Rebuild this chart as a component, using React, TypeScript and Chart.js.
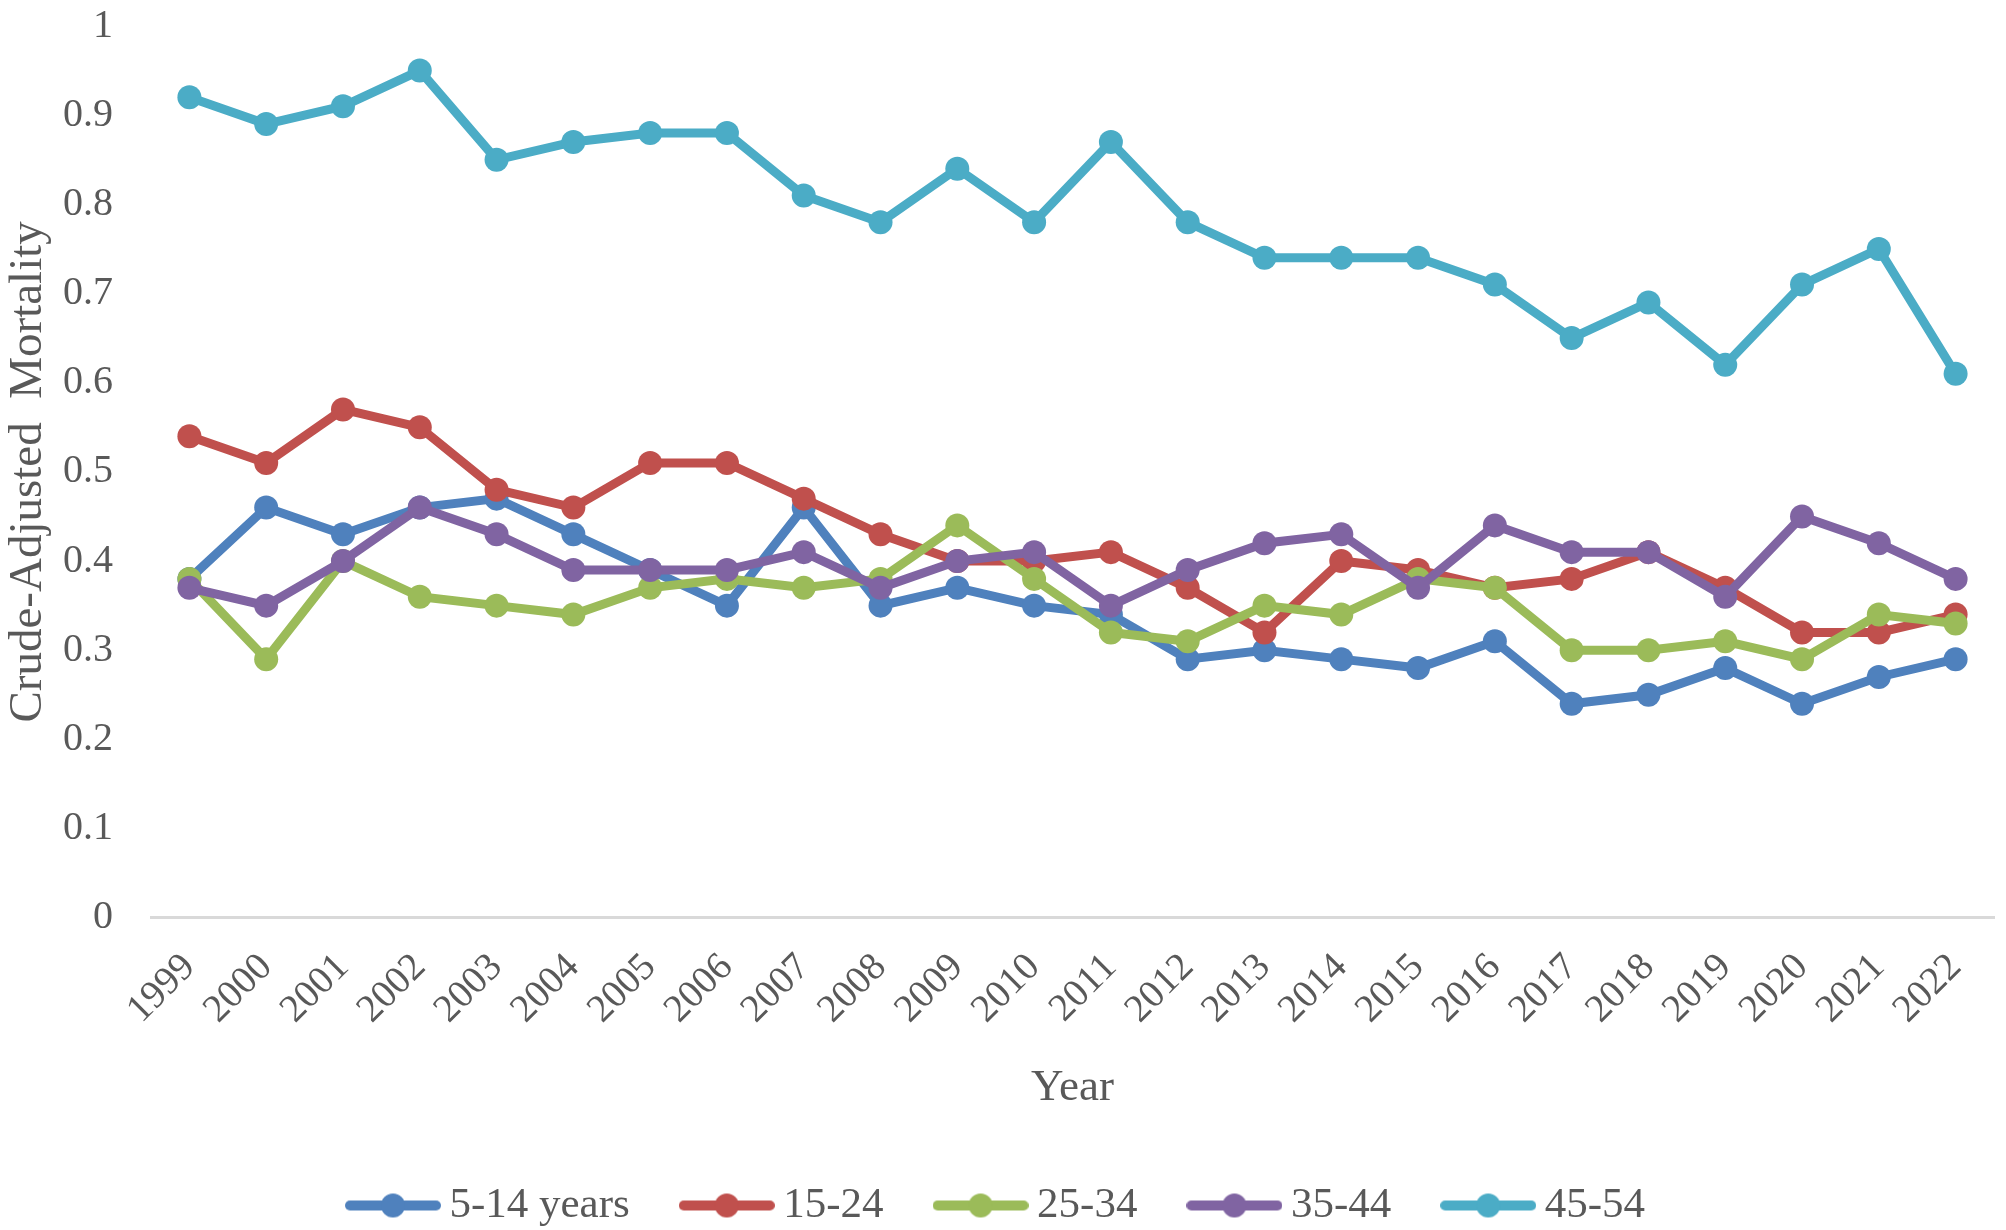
import { useEffect, useRef } from 'react';
import { Chart, registerables } from 'chart.js';

Chart.register(...registerables);

const years = [
  '1999', '2000', '2001', '2002', '2003', '2004', '2005', '2006', '2007', '2008', '2009', '2010',
  '2011', '2012', '2013', '2014', '2015', '2016', '2017', '2018', '2019', '2020', '2021', '2022',
];

const seriesNames = ['5-14 years', '15-24', '25-34', '35-44', '45-54'];
const seriesColors = ['#4F81BD', '#C0504D', '#9BBB59', '#8064A2', '#4BACC6'];

const age5to14 = [0.38, 0.46, 0.43, 0.46, 0.47, 0.43, 0.39, 0.35, 0.46, 0.35, 0.37, 0.35, 0.34, 0.29, 0.30, 0.29, 0.28, 0.31, 0.24, 0.25, 0.28, 0.24, 0.27, 0.29];
const age15to24 = [0.54, 0.51, 0.57, 0.55, 0.48, 0.46, 0.51, 0.51, 0.47, 0.43, 0.40, 0.40, 0.41, 0.37, 0.32, 0.40, 0.39, 0.37, 0.38, 0.41, 0.37, 0.32, 0.32, 0.34];
const age25to34 = [0.38, 0.29, 0.40, 0.36, 0.35, 0.34, 0.37, 0.38, 0.37, 0.38, 0.44, 0.38, 0.32, 0.31, 0.35, 0.34, 0.38, 0.37, 0.30, 0.30, 0.31, 0.29, 0.34, 0.33];
const age35to44 = [0.37, 0.35, 0.40, 0.46, 0.43, 0.39, 0.39, 0.39, 0.41, 0.37, 0.40, 0.41, 0.35, 0.39, 0.42, 0.43, 0.37, 0.44, 0.41, 0.41, 0.36, 0.45, 0.42, 0.38];
const age45to54 = [0.92, 0.89, 0.91, 0.95, 0.85, 0.87, 0.88, 0.88, 0.81, 0.78, 0.84, 0.78, 0.87, 0.78, 0.74, 0.74, 0.74, 0.71, 0.65, 0.69, 0.62, 0.71, 0.75, 0.61];

const seriesValues = [age5to14, age15to24, age25to34, age35to44, age45to54];

const FONT = '"Liberation Serif", "Times New Roman", serif';
const TEXT = '#595959';

// little "line with a dot" swatch for the legend, like Excel draws it
function legendSwatch(color: string) {
  const c = document.createElement('canvas');
  c.width = 96;
  c.height = 26;
  const ctx = c.getContext('2d')!;
  ctx.strokeStyle = color;
  ctx.lineWidth = 10;
  ctx.lineCap = 'round';
  ctx.beginPath();
  ctx.moveTo(5, 13);
  ctx.lineTo(91, 13);
  ctx.stroke();
  ctx.fillStyle = color;
  ctx.beginPath();
  ctx.arc(48, 13, 12, 0, Math.PI * 2);
  ctx.fill();
  return c;
}

export default function App() {
  const canvasRef = useRef<HTMLCanvasElement>(null);

  useEffect(() => {
    if (!canvasRef.current) return;

    const chart = new Chart(canvasRef.current, {
      type: 'line',
      data: {
        labels: years,
        datasets: seriesNames.map((name, i) => ({
          label: name,
          data: seriesValues[i],
          borderColor: seriesColors[i],
          backgroundColor: seriesColors[i],
          borderWidth: 9,
          pointRadius: 12,
          pointBorderWidth: 0,
          pointBackgroundColor: seriesColors[i],
          tension: 0,
          order: seriesNames.length - 1 - i,
        })),
      },
      options: {
        responsive: true,
        maintainAspectRatio: false,
        animation: false,
        devicePixelRatio: 1,
        layout: { padding: { top: 0, right: 3, left: 0, bottom: 0 } },
        plugins: {
          tooltip: { enabled: false },
          legend: {
            position: 'bottom',
            labels: {
              usePointStyle: true,
              pointStyleWidth: 70,
              padding: 62,
              color: TEXT,
              font: { family: FONT, size: 43 },
              generateLabels: (ch) =>
                ch.data.datasets.map((ds, i) => ({
                  text: ds.label as string,
                  fillStyle: seriesColors[i],
                  strokeStyle: seriesColors[i],
                  lineWidth: 0,
                  pointStyle: legendSwatch(seriesColors[i]),
                  hidden: false,
                  datasetIndex: i,
                  fontColor: TEXT,
                })),
            },
          },
        },
        scales: {
          x: {
            offset: true,
            grid: { display: false, drawTicks: false },
            border: { display: true, color: '#D9D9D9', width: 3 },
            ticks: {
              color: TEXT,
              font: { family: FONT, size: 39 },
              minRotation: 45,
              maxRotation: 45,
              padding: 27,
              autoSkip: false,
            },
            title: {
              display: true,
              text: 'Year',
              color: TEXT,
              font: { family: FONT, size: 45 },
              padding: { top: 1, bottom: 7 },
            },
            // rotated labels may hang over the y labels, as in Excel
            afterFit: (scale) => {
              scale.paddingLeft = 0;
              scale.paddingRight = 0;
            },
          },
          y: {
            min: 0,
            max: 1,
            grid: { display: false, drawTicks: false },
            border: { display: false },
            ticks: {
              stepSize: 0.1,
              color: TEXT,
              font: { family: FONT, size: 40 },
              padding: 38,
              callback: (v) => String(Math.round(Number(v) * 10) / 10),
            },
            title: {
              display: true,
              text: 'Crude-Adjusted  Mortality',
              color: TEXT,
              font: { family: FONT, size: 47 },
              padding: { top: 0, bottom: 0 },
            },
            afterFit: (scale) => {
              scale.width = 151;
              scale.paddingTop = 26;
              scale.paddingBottom = 0;
            },
          },
        },
      },
    });

    return () => {
      chart.destroy();
    };
  }, []);

  return (
    <div style={{ position: 'absolute', left: 0, top: 0, width: 2006, height: 1230, overflow: 'hidden', background: '#fff' }}>
      <div style={{ position: 'relative', width: 2006, height: 1237 }}>
        <canvas ref={canvasRef} />
      </div>
    </div>
  );
}
